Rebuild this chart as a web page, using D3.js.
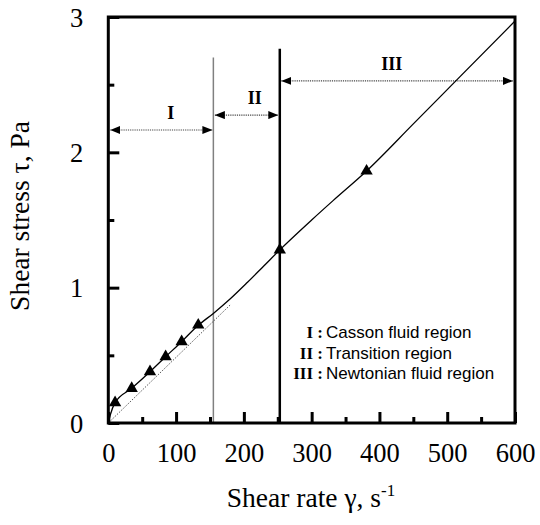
<!DOCTYPE html>
<html>
<head>
<meta charset="utf-8">
<script src="https://cdn.jsdelivr.net/npm/d3@7"></script>
<style>
  html, body { margin: 0; padding: 0; background: #fff; }
  svg { display: block; }
</style>
</head>
<body>
<svg id="chart" width="540" height="525"></svg>
<script>
// Measured points: shear rate (1/s) and shear stress (Pa)
const shearRate   = [10, 34.5, 61.5, 84.6, 108.2, 132.7, 253, 381];
const shearStress = [0.15, 0.256, 0.379, 0.49, 0.601, 0.724, 1.279, 1.862];

// Fitted flow curve through the measurements
const fitRate   = [0, 3, 10, 34.5, 61.5, 84.6, 108.2, 132.7, 155, 180, 205, 229, 253, 300, 332, 381, 450, 520, 600];
const fitStress = [0, 0.06, 0.15, 0.256, 0.379, 0.49, 0.601, 0.722, 0.81, 0.918, 1.038, 1.158, 1.279, 1.5, 1.645, 1.862, 2.21, 2.565, 2.97];

// Newtonian reference line from the origin
const newtonRate   = [0, 180];
const newtonStress = [0, 0.873];

// Axis ticks
const xTicks = [0, 100, 200, 300, 400, 500, 600];
const xMinorTicks = [50, 150, 250, 350, 450, 550];
const yTicks = [0, 1, 2, 3];
const yMinorTicks = [0.5, 1.5, 2.5];

// Flow regions
const regionNames  = ["I", "II", "III"];
const regionStart  = [0, 155, 253];
const regionEnd    = [155, 253, 600];
const arrowLevel   = [2.165, 2.275, 2.528];
const labelRate    = [92, 216, 418];
const boundaryRate = [155, 253];
const boundaryTop  = [2.70, 2.765];

const legendKeys  = ["I :", "II :", "III :"];
const legendTexts = ["Casson fluid region", "Transition region", "Newtonian fluid region"];

const svg = d3.select("#chart");
const M = { left: 108.3, right: 515, top: 17, bottom: 423 };

const x = d3.scaleLinear().domain([0, 600]).range([M.left, M.right]);
const y = d3.scaleLinear().domain([0, 3]).range([M.bottom, M.top]);

const serif = "'Liberation Serif', 'Times New Roman', serif";
const sans = "'Liberation Sans', Arial, sans-serif";

// Axes with inward ticks
const gx = svg.append("g").attr("transform", `translate(0,${M.bottom})`)
  .call(d3.axisBottom(x).tickValues(xTicks).tickFormat(d3.format("d"))
        .tickSizeInner(-11).tickSizeOuter(0).tickPadding(20));
svg.append("g").attr("transform", `translate(0,${M.bottom})`)
  .call(d3.axisBottom(x).tickValues(xMinorTicks).tickFormat("")
        .tickSizeInner(-6).tickSizeOuter(0));
const gy = svg.append("g").attr("transform", `translate(${M.left},0)`)
  .call(d3.axisLeft(y).tickValues(yTicks).tickFormat(d3.format("d"))
        .tickSizeInner(-11).tickSizeOuter(0).tickPadding(25));
svg.append("g").attr("transform", `translate(${M.left},0)`)
  .call(d3.axisLeft(y).tickValues(yMinorTicks).tickFormat("")
        .tickSizeInner(-6).tickSizeOuter(0));

svg.selectAll(".domain").remove();
svg.selectAll(".tick line").attr("stroke", "#000").attr("stroke-width", 3);
svg.selectAll(".tick text").attr("font-family", serif).attr("font-size", 26.5).attr("fill", "#000");
gx.selectAll(".tick text").attr("dy", "0.71em");
gy.selectAll(".tick text").attr("dy", "0.34em");

// Region boundaries
svg.append("line")
  .attr("x1", x(boundaryRate[0])).attr("x2", x(boundaryRate[0]))
  .attr("y1", y(boundaryTop[0])).attr("y2", y(0))
  .attr("stroke", "#808080").attr("stroke-width", 1.5);
svg.append("line")
  .attr("x1", x(boundaryRate[1])).attr("x2", x(boundaryRate[1]))
  .attr("y1", y(boundaryTop[1])).attr("y2", y(0))
  .attr("stroke", "#000").attr("stroke-width", 2.5);

// Arrowheads
const defs = svg.append("defs");
defs.append("marker").attr("id", "head").attr("viewBox", "0 0 10 8")
  .attr("refX", 10).attr("refY", 4).attr("markerWidth", 10).attr("markerHeight", 8)
  .attr("markerUnits", "userSpaceOnUse").attr("orient", "auto-start-reverse")
  .append("path").attr("d", "M0,0 L10,4 L0,8 Z").attr("fill", "#000");

const pad = [2, 1.5, 1.5];
const padEnd = [1, 1.5, 2];
regionNames.forEach((name, i) => {
  svg.append("line")
    .attr("x1", x(regionStart[i]) + pad[i]).attr("x2", x(regionEnd[i]) - padEnd[i])
    .attr("y1", y(arrowLevel[i])).attr("y2", y(arrowLevel[i]))
    .attr("stroke", "#444").attr("stroke-width", 1.1).attr("stroke-dasharray", "1.2,1")
    .attr("marker-start", "url(#head)").attr("marker-end", "url(#head)");
  svg.append("text")
    .attr("x", x(labelRate[i])).attr("y", y(arrowLevel[i]) - 11)
    .attr("text-anchor", "middle").attr("font-family", serif)
    .attr("font-weight", "bold").attr("font-size", 18).text(name);
});

// Newtonian reference (dotted)
const line = d3.line().x(d => x(d[0])).y(d => y(d[1]));
svg.append("path")
  .datum(newtonRate.map((r, i) => [r, newtonStress[i]]))
  .attr("d", line).attr("fill", "none")
  .attr("stroke", "#555").attr("stroke-width", 1).attr("stroke-dasharray", "1.5,1.5");

// Fitted curve
svg.append("path")
  .datum(fitRate.map((r, i) => [r, fitStress[i]]))
  .attr("d", line.curve(d3.curveMonotoneX)).attr("fill", "none")
  .attr("stroke", "#000").attr("stroke-width", 1.3);

// Measured points
svg.selectAll(".pt").data(shearRate.map((r, i) => [r, shearStress[i]]))
  .enter().append("path").attr("class", "pt")
  .attr("transform", d => `translate(${x(d[0])},${y(d[1])})`)
  .attr("d", d3.symbol(d3.symbolTriangle, 66)).attr("fill", "#000");

// Frame
svg.append("rect")
  .attr("x", M.left).attr("y", M.top)
  .attr("width", M.right - M.left).attr("height", M.bottom - M.top)
  .attr("fill", "none").attr("stroke", "#000").attr("stroke-width", 3);

// Legend
legendKeys.forEach((k, i) => {
  const by = 338 + i * 20.5;
  svg.append("text").attr("x", 323).attr("y", by).attr("text-anchor", "end")
    .attr("font-family", serif).attr("font-weight", "bold").attr("font-size", 17).text(k);
  svg.append("text").attr("x", 326).attr("y", by)
    .attr("font-family", sans).attr("font-size", 17).text(legendTexts[i]);
});

// Axis titles
const xt = svg.append("text").attr("x", 311).attr("y", 507).attr("text-anchor", "middle")
  .attr("font-family", serif).attr("font-size", 27.5);
xt.append("tspan").text("Shear rate \u03b3, s");
xt.append("tspan").attr("dy", -11).attr("font-size", 17).text("-1");

svg.append("text")
  .attr("transform", `translate(29,216) rotate(-90)`)
  .attr("text-anchor", "middle").attr("font-family", serif).attr("font-size", 27.5)
  .text("Shear stress \u03c4, Pa");
</script>
</body>
</html>
